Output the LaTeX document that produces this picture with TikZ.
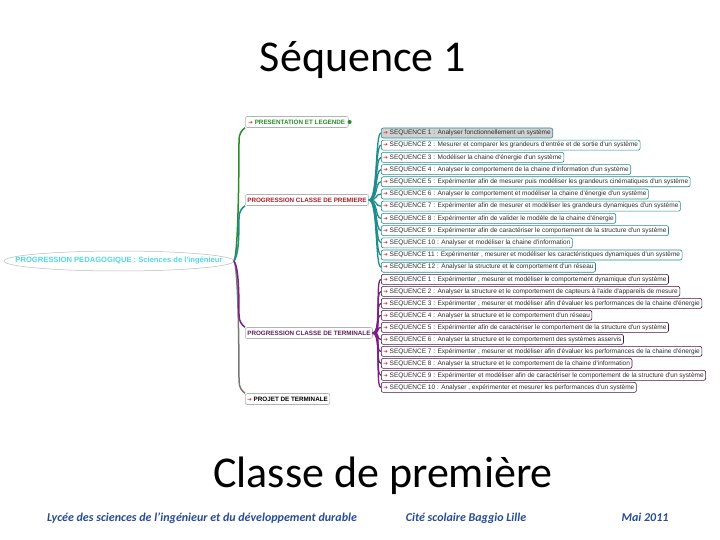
\documentclass[tikz,border=0pt]{standalone}
\usepackage{fontspec}
\setmainfont{Carlito}
\newfontfamily\mapfont{Liberation Sans}
\newfontfamily\symfont{DejaVu Sans}
\usetikzlibrary{shapes.geometric,calc}
\definecolor{arrred}{RGB}{210,50,50}
\definecolor{tealc}{RGB}{30,140,140}
\definecolor{greenc}{RGB}{40,140,40}
\definecolor{purplec}{RGB}{125,30,135}
\definecolor{grayc}{RGB}{120,120,120}
\definecolor{rootc}{RGB}{80,215,230}
\definecolor{premc}{RGB}{170,30,40}
\definecolor{termc}{RGB}{95,30,90}
\definecolor{footc}{RGB}{40,75,150}
\definecolor{seqtext}{RGB}{45,45,45}
\newcommand\redarr{{\symfont\color{arrred}\fontsize{5.5}{6}\selectfont ➔}}
\tikzset{
  seqbox/.style={rounded corners=2pt, line width=0.6pt, inner xsep=2pt, inner ysep=0pt,
    minimum height=10pt, anchor=west, text=seqtext,
    font=\mapfont\fontsize{6.5}{7}\selectfont},
  seqp/.style={seqbox, draw=tealc},
  seqt/.style={seqbox, draw=termc!70!black},
  mainbox/.style={draw=gray!60, rounded corners=2pt, line width=0.6pt, inner xsep=2pt,
    inner ysep=0pt, minimum height=11pt, anchor=west,
    font=\mapfont\bfseries\fontsize{6.3}{7}\selectfont},
  conp/.style={tealc, line width=1.3pt},
  cont/.style={purplec, line width=1.3pt},
  title/.style={font=\fontsize{44}{50}\selectfont, anchor=base},
  foot/.style={font=\bfseries\itshape\fontsize{12}{14}\selectfont, text=footc, anchor=base}
}
\begin{document}
\begin{tikzpicture}[x=1pt,y=-1pt]
\path[use as bounding box] (0,0) rectangle (720,540);

% titles
\node[title] (t1) at (363,72) {Séquence 1};
\node[title] (t2) at (383,487) {Classe de première};

% footer
\node[foot] (f1) at (202,521) {Lycée des sciences de l'ingénieur et du développement durable};
\node[foot] (f2) at (466,521) {Cité scolaire Baggio Lille};
\node[foot] (f3) at (645,521) {Mai 2011};

% root
\node[inner sep=0pt, text=rootc, font=\mapfont\bfseries\fontsize{7.6}{8}\selectfont]
  (root) at (119,261) {PROGRESSION PEDAGOGIQUE : Sciences de l'ingénieur};
\draw[gray!55, line width=0.5pt] (root.center) ellipse [x radius=115, y radius=10];
\coordinate (rootE) at (234,261);

% main nodes
\node[mainbox, text=greenc, minimum width=103pt] (pres) at (245,122) {\redarr\ PRESENTATION ET LEGENDE};
\fill[greenc] ($(pres.east)+(1,0)$) circle (2);
\node[mainbox, text=premc] (prem) at (245,200) {PROGRESSION CLASSE DE PREMIERE};
\node[mainbox, text=termc] (term) at (245,333) {PROGRESSION CLASSE DE TERMINALE};
\node[mainbox, text=black] (proj) at (245,399) {\redarr\ PROJET DE TERMINALE};

% main connectors
\draw[greenc, line width=1.5pt] (rootE) .. controls +(4,-6) and +(0,40) .. ($(pres.south west)+(-6,12)$) .. controls +(0,-6) and +(-3,2) .. (pres.south west);
\draw[tealc, line width=1.5pt] (rootE) .. controls +(4,-6) and +(0,25) .. ($(prem.south west)+(-6,12)$) .. controls +(0,-6) and +(-3,2) .. (prem.south west);
\draw[grayc, line width=1.5pt] (rootE) .. controls +(4,6) and +(0,-40) .. ($(proj.north west)+(-6,-12)$) .. controls +(0,6) and +(-3,-2) .. (proj.north west);
\draw[purplec, line width=1.5pt] (rootE) .. controls +(4,6) and +(0,-30) .. ($(term.north west)+(-6,-12)$) .. controls +(0,6) and +(-3,-2) .. (term.north west);

% premiere sequences
\node[seqp, fill=gray!35] (p1) at (381,133) {\redarr\ SEQUENCE 1 : Analyser fonctionnellement un système};
\node[seqp] (p2) at (381,145.2) {\redarr\ SEQUENCE 2 : Mesurer et comparer les grandeurs d'entrée et de sortie d'un système};
\node[seqp] (p3) at (381,157.4) {\redarr\ SEQUENCE 3 : Modéliser la chaine d'énergie d'un système};
\node[seqp] (p4) at (381,169.6) {\redarr\ SEQUENCE 4 : Analyser le comportement de la chaine d'information d'un système};
\node[seqp] (p5) at (381,181.8) {\redarr\ SEQUENCE 5 : Expérimenter afin de mesurer puis modéliser les grandeurs cinématiques d'un système};
\node[seqp] (p6) at (381,194) {\redarr\ SEQUENCE 6 : Analyser le comportement et modéliser la chaine d'énergie d'un système};
\node[seqp] (p7) at (381,206.2) {\redarr\ SEQUENCE 7 : Expérimenter afin de mesurer et modéliser les grandeurs dynamiques d'un système};
\node[seqp] (p8) at (381,218.4) {\redarr\ SEQUENCE 8 : Expérimenter afin de valider le modèle de la chaine d'énergie};
\node[seqp] (p9) at (381,230.6) {\redarr\ SEQUENCE 9 : Expérimenter afin de caractériser le comportement de la structure d'un système};
\node[seqp] (p10) at (381,242.8) {\redarr\ SEQUENCE 10 : Analyser et modéliser la chaine d'information};
\node[seqp] (p11) at (381,255) {\redarr\ SEQUENCE 11 : Expérimenter , mesurer et modéliser les caractéristiques dynamiques d'un système};
\node[seqp] (p12) at (381,267.2) {\redarr\ SEQUENCE 12 : Analyser la structure et le comportement d'un réseau};
\foreach \i in {1,...,12}
  \draw[conp] (prem.east) .. controls +(9,0) and +(-6,0) .. (p\i.west);

% terminale sequences
\node[seqt] (q1) at (381,279.4) {\redarr\ SEQUENCE 1 : Expérimenter , mesurer et modéliser le comportement dynamique d'un système};
\node[seqt] (q2) at (381,291.4) {\redarr\ SEQUENCE 2 : Analyser la structure et le comportement de capteurs à l'aide d'appareils de mesure};
\node[seqt] (q3) at (381,303.4) {\redarr\ SEQUENCE 3 : Expérimenter , mesurer et modéliser afin d'évaluer les performances de la chaine d'énergie};
\node[seqt] (q4) at (381,315.4) {\redarr\ SEQUENCE 4 : Analyser la structure et le comportement d'un réseau};
\node[seqt] (q5) at (381,327.4) {\redarr\ SEQUENCE 5 : Expérimenter afin de caractériser le comportement de la structure d'un système};
\node[seqt] (q6) at (381,339.4) {\redarr\ SEQUENCE 6 : Analyser la structure et le comportement des systèmes asservis};
\node[seqt] (q7) at (381,351.4) {\redarr\ SEQUENCE 7 : Expérimenter , mesurer et modéliser afin d'évaluer les performances de la chaine d'énergie};
\node[seqt] (q8) at (381,363.4) {\redarr\ SEQUENCE 8 : Analyser la structure et le comportement de la chaine d'information};
\node[seqt] (q9) at (381,375.4) {\redarr\ SEQUENCE 9 : Expérimenter et modéliser afin de caractériser le comportement de la structure d'un système};
\node[seqt] (q10) at (381,387.4) {\redarr\ SEQUENCE 10 : Analyser , expérimenter et mesurer les performances d'un système};
\foreach \i in {1,...,10}
  \draw[cont] (term.east) .. controls +(9,0) and +(-6,0) .. (q\i.west);
\end{tikzpicture}
\end{document}
